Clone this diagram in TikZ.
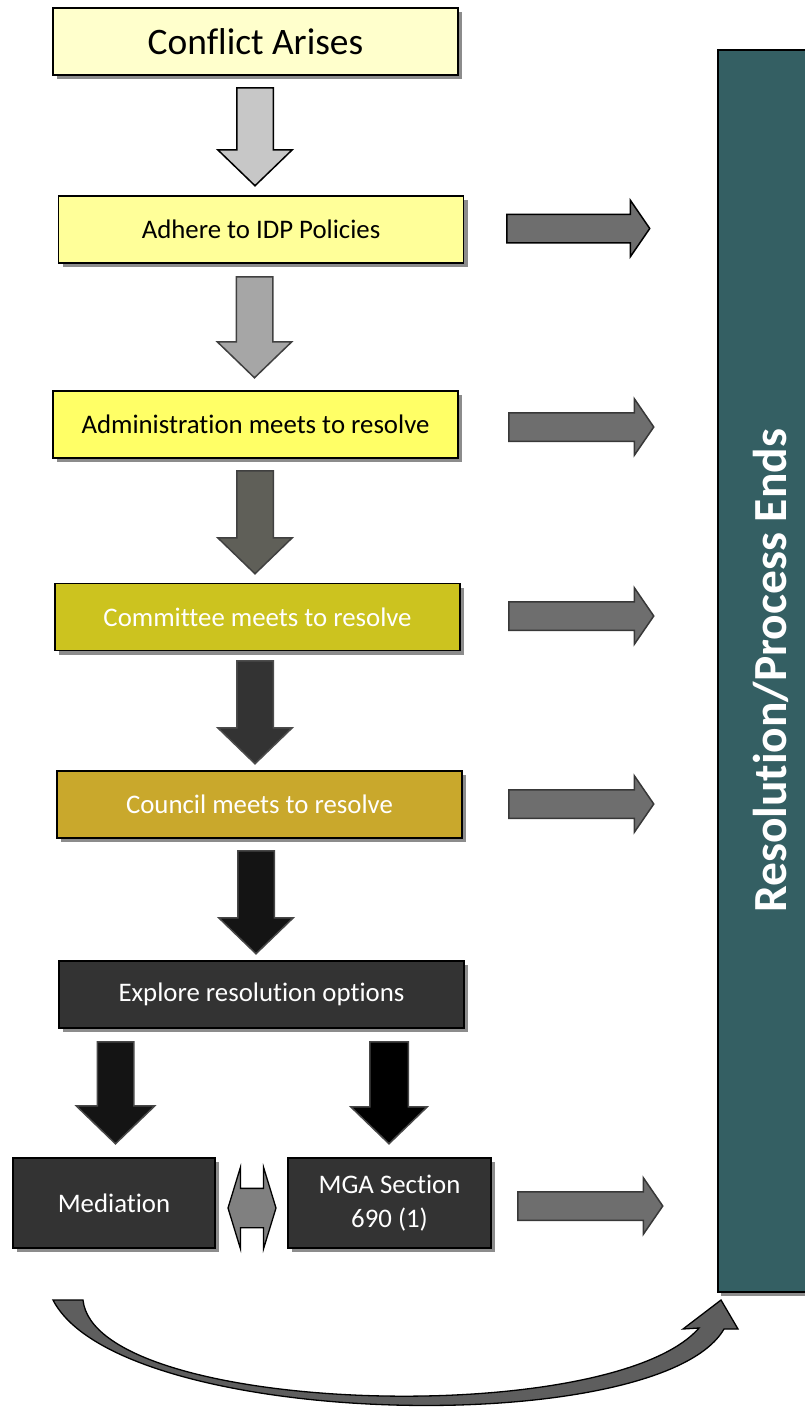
\documentclass[tikz,border=0pt]{standalone}
\usepackage{fontspec}
\setmainfont{Carlito}[Ligatures=NoCommon]
\usetikzlibrary{shapes.arrows,shadows}

\definecolor{paleyellow}{HTML}{FFFFCC}
\definecolor{lightyellow}{HTML}{FFFF99}
\definecolor{brightyellow}{HTML}{FFFF66}
\definecolor{oliveyellow}{HTML}{CCC31F}
\definecolor{goldyellow}{HTML}{C9A82C}
\definecolor{darkbox}{HTML}{333333}
\definecolor{tealbar}{RGB}{52,95,99}

\tikzset{
  box/.style={draw=black, line width=1.2pt, minimum width=405pt, minimum height=67pt,
    font=\fontsize{26.8}{34}\selectfont,
    drop shadow={shadow xshift=4pt, shadow yshift=-4pt, fill=black!45, opacity=1}},
  darkbox/.style={box, fill=darkbox, text=white},
  downarrow/.style={single arrow, rotate=-90, anchor=tail, draw=#1, line width=1.5pt, minimum height=101pt,
    inner xsep=0pt, inner ysep=17.5pt, single arrow head extend=19pt, single arrow tip angle=92},
  rightarrow/.style={single arrow, anchor=tail, draw=#1, fill=black!57, line width=1.5pt, minimum height=143pt,
    inner xsep=0pt, inner ysep=13.5pt, single arrow head extend=14pt, single arrow tip angle=111}
}

\begin{document}
\begin{tikzpicture}[x=1pt, y=-1pt]
  \useasboundingbox (0,0) rectangle (805,1408);

  % steps
  \node[box, fill=paleyellow, font=\fontsize{37.4}{42}\selectfont] (arises) at (255.5,41.5) {Conflict Arises};
  \node[box, fill=lightyellow] (idp) at (261,229.5) {Adhere to IDP Policies};
  \node[box, fill=brightyellow] (admin) at (255.5,424.5) {Administration meets to resolve};
  \node[box, fill=oliveyellow, text=white] (committee) at (257.5,617) {Committee meets to resolve};
  \node[box, fill=goldyellow, text=white] (council) at (259.5,804.5) {Council meets to resolve};
  \node[darkbox] (explore) at (261.5,994.5) {Explore resolution options};
  \node[darkbox, minimum width=202pt, minimum height=90pt] (mediation) at (114,1203) {Mediation};
  \node[darkbox, minimum width=203pt, minimum height=90pt, align=center] (mga) at (389.5,1203) {MGA Section\\690 (1)};

  \node[draw=black, line width=1.5pt, fill=tealbar, rotate=90, minimum width=1242pt, minimum height=106pt,
    text=white, font=\fontsize{47.5}{52}\selectfont\bfseries,
    drop shadow={shadow xshift=3pt, shadow yshift=-4pt, fill=black!45, opacity=1}] (ends) at (771,671)
    {Resolution/Process Ends};

  % block arrows down
  \node[downarrow=black, fill=black!22, minimum height=98pt] (a1) at (255,87) {};
  \node[downarrow=black!75, fill=black!35] (a2) at (254.5,276) {};
  \node[downarrow=black!75, fill={rgb,255:red,95;green,95;blue,88}, minimum height=103pt] (a3) at (255,470) {};
  \node[downarrow=black!70, fill=black!80, minimum height=103pt] (a4) at (255,660) {};
  \node[downarrow=black!72, fill=black!92, minimum height=103pt] (a5) at (256,850) {};
  \node[downarrow=black!72, fill=black!92, minimum height=102pt, single arrow head extend=21pt] (a6) at (115.5,1041) {};
  \node[downarrow=black!72, fill=black, minimum height=102pt, inner ysep=18.5pt] (a7) at (389,1041) {};

  % block arrows to the right
  \node[rightarrow=black] (r1) at (506,228.5) {};
  \node[rightarrow=black!78, minimum height=145pt] (r2) at (508,427) {};
  \node[rightarrow=black!78, minimum height=145pt] (r3) at (508,616) {};
  \node[rightarrow=black!78, minimum height=145pt] (r4) at (508,804) {};
  \node[rightarrow=black!78, minimum height=145pt] (r5) at (517,1206) {};

  \node[double arrow, draw=black, fill=black!50, line width=1.3pt, minimum height=48pt, inner xsep=0pt,
    inner ysep=19pt, double arrow head extend=21pt, double arrow tip angle=146] (both) at (252,1208) {};

  % curved arrow round the bottom
  \draw[line width=1.3pt, fill=black!63, line join=miter]
    (53,1300) -- (83,1300) .. controls (95,1415) and (610,1430) .. (699,1328)
    -- (683,1329) -- (721,1300) -- (738,1329) -- (724,1329)
    .. controls (660,1440) and (120,1430) .. (53,1300) -- cycle;
\end{tikzpicture}
\end{document}
